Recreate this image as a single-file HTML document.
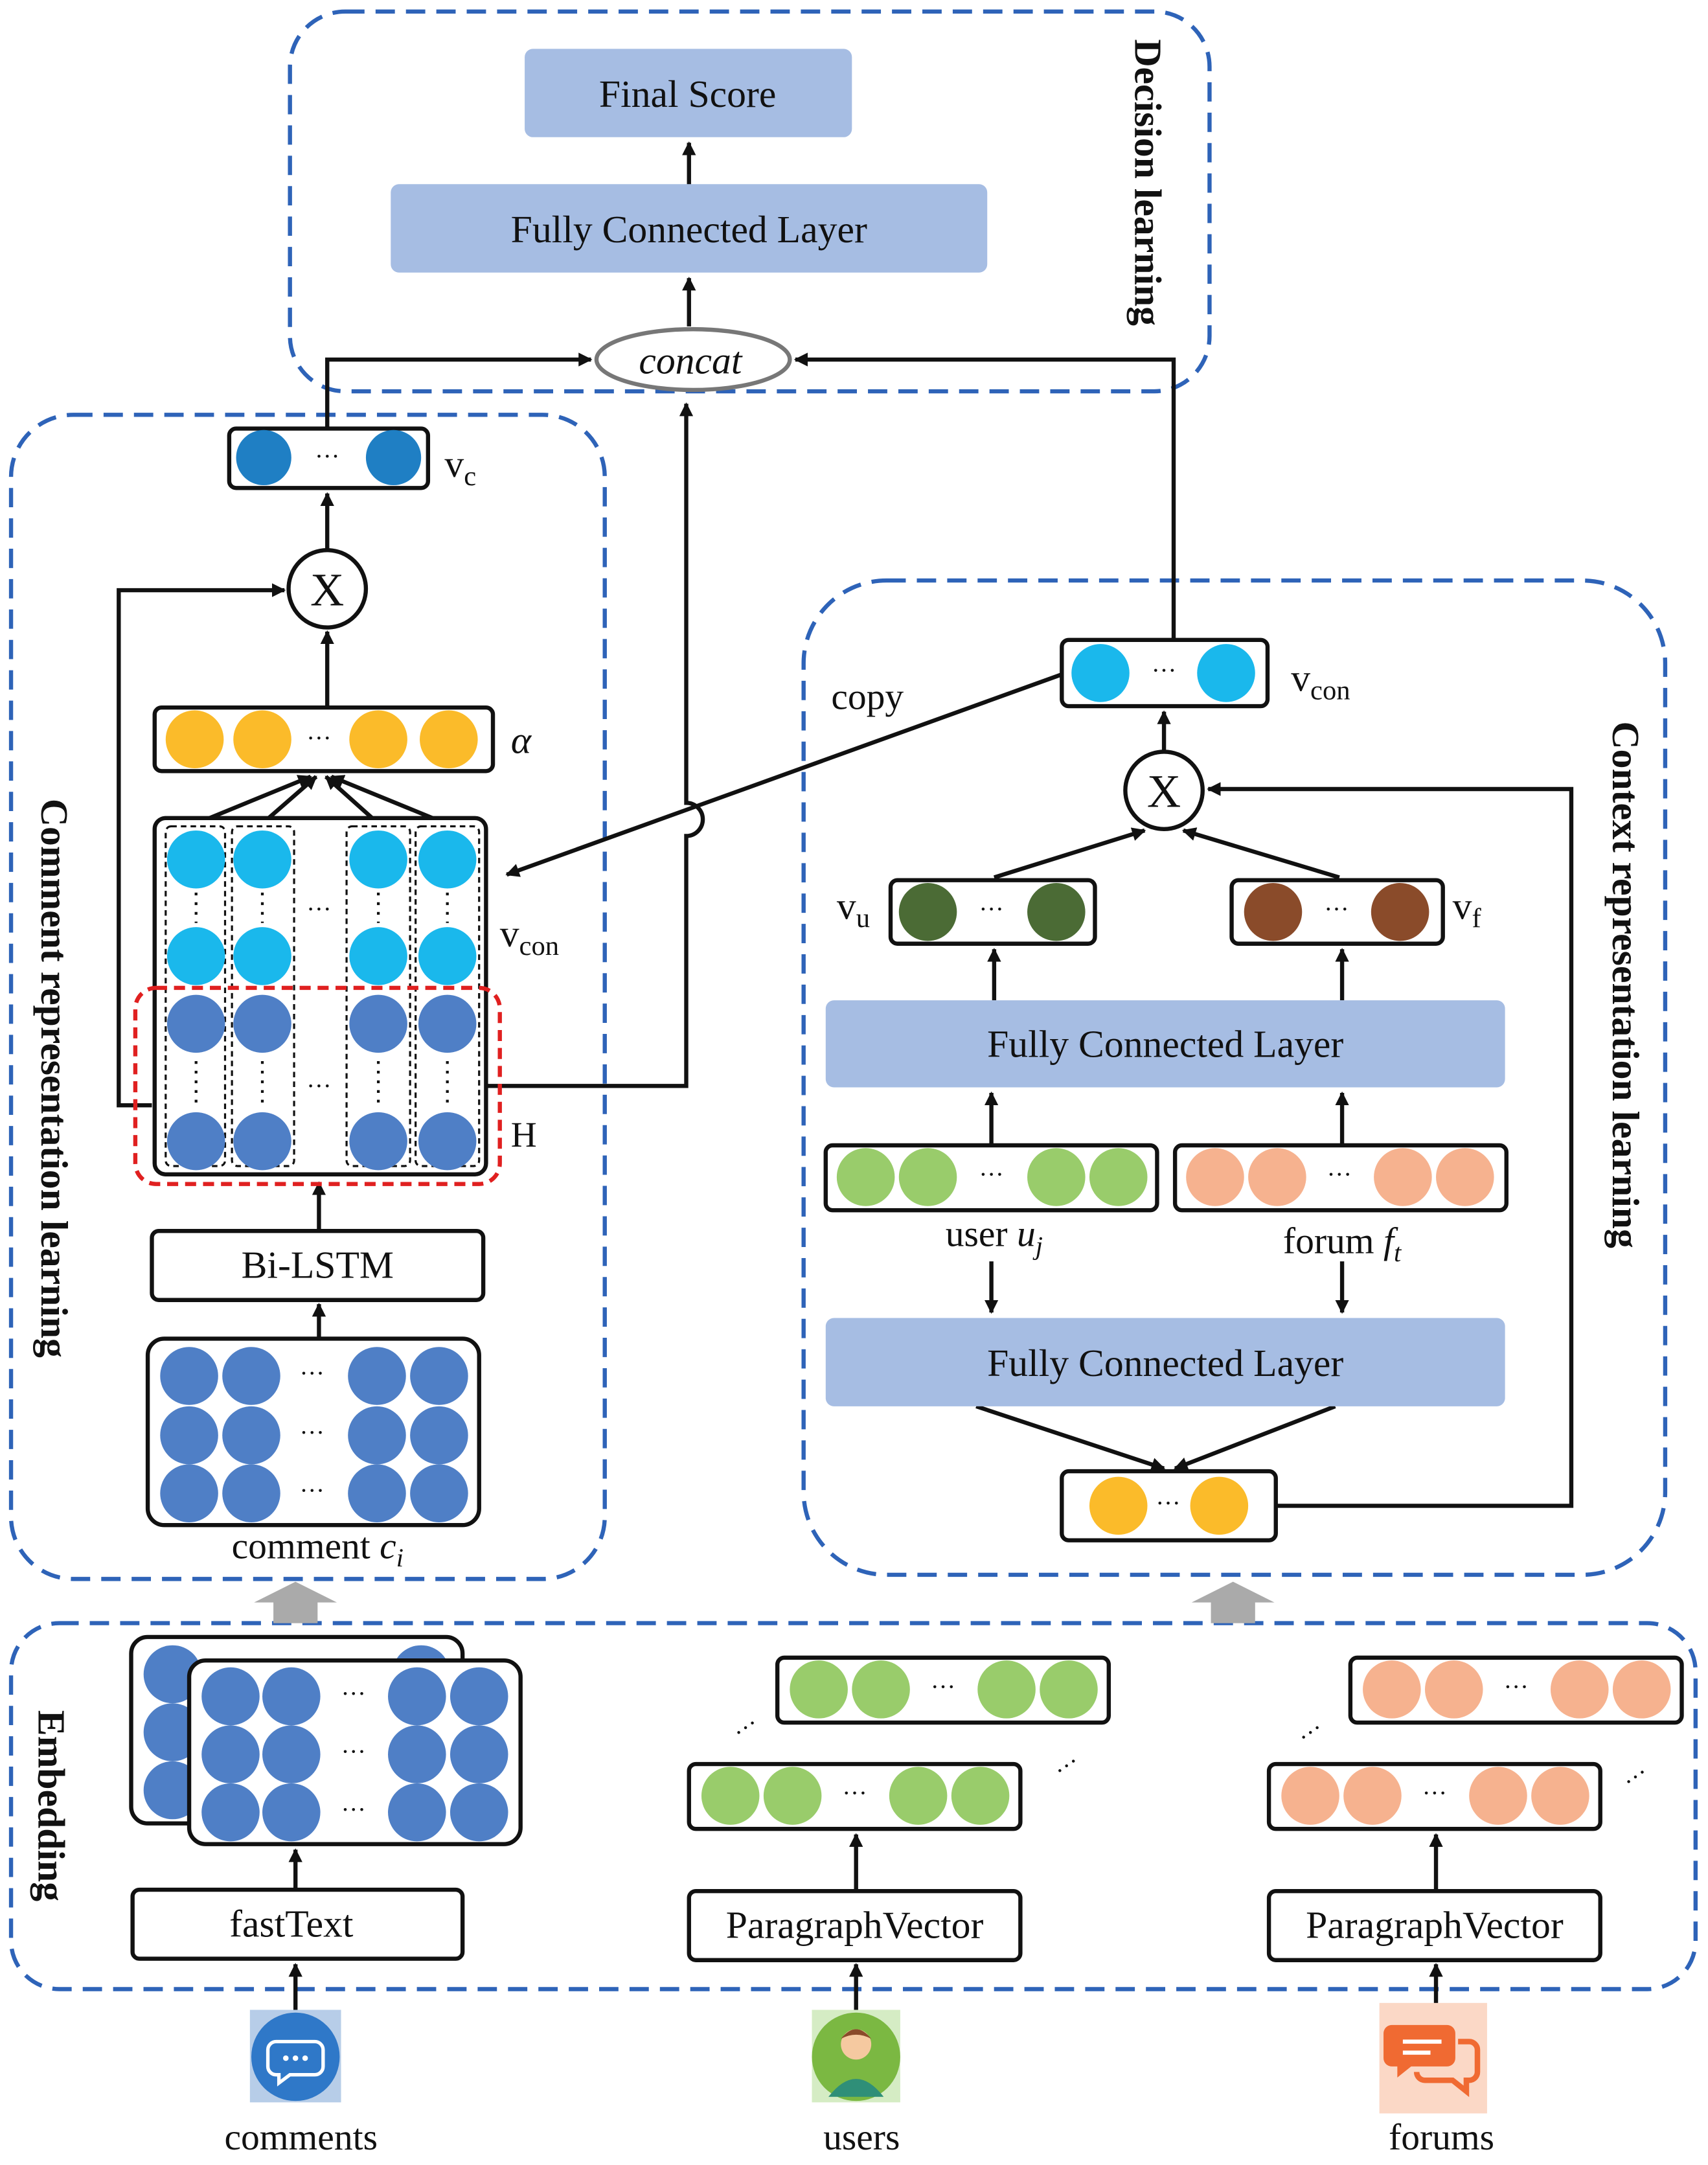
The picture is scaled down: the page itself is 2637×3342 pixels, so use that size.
<!DOCTYPE html>
<html><head><meta charset="utf-8"><style>
html,body{margin:0;padding:0;background:#fff}
svg{display:block}
text{font-family:"Liberation Serif",serif;fill:#111}
</style></head><body>
<svg width="2637" height="3342" viewBox="0 0 1237 1567" xmlns="http://www.w3.org/2000/svg">
<defs>
<marker id="ah" markerWidth="10" markerHeight="10" refX="9" refY="5" orient="auto" markerUnits="userSpaceOnUse">
<path d="M0,0 L10,5 L0,10 Z" fill="#111"/></marker>
</defs>
<g fill="none" stroke="#2e63b8" stroke-width="3" stroke-dasharray="14,8">
<rect x="210" y="8" width="666" height="275" rx="40"/>
<rect x="8" y="300" width="430" height="843" rx="45"/>
<rect x="582" y="420" width="624" height="720" rx="60"/>
<rect x="8" y="1175" width="1220" height="265" rx="35"/>
</g>
<rect x="380" y="35" width="237" height="64" rx="6" fill="#a6bde3"/>
<text x="498" y="77" font-size="28" text-anchor="middle">Final Score</text>
<rect x="283" y="133" width="432" height="64" rx="6" fill="#a6bde3"/>
<text x="499" y="175" font-size="28" text-anchor="middle">Fully Connected Layer</text>
<ellipse cx="502" cy="260" rx="70" ry="22" fill="#fff" stroke="#777" stroke-width="3"/>
<text x="500" y="270" font-size="28" font-style="italic" text-anchor="middle">concat</text>
<text transform="translate(822,28) rotate(90)" font-size="28" font-weight="bold">Decision learning</text>
<g stroke="#111" stroke-width="3" fill="none">
<line x1="499" y1="133" x2="499" y2="103" marker-end="url(#ah)"/>
<line x1="499" y1="236" x2="499" y2="201" marker-end="url(#ah)"/>
<polyline points="237,310 237,260 428,260" marker-end="url(#ah)"/>
<polyline points="850,463 850,260 576,260" marker-end="url(#ah)"/>
<path d="M352,786 L497,786 L497,605 A12,12 0 0 0 497,581 L497,292" marker-end="url(#ah)"/>
<line x1="237" y1="398" x2="237" y2="357" marker-end="url(#ah)"/>
<line x1="237" y1="512" x2="237" y2="457" marker-end="url(#ah)"/>
<polyline points="110,800 86,800 86,427 206,427" marker-end="url(#ah)"/>
<line x1="142" y1="596" x2="225" y2="562" marker-end="url(#ah)"/>
<line x1="190" y1="596" x2="229" y2="562" marker-end="url(#ah)"/>
<line x1="274" y1="596" x2="236" y2="562" marker-end="url(#ah)"/>
<line x1="323" y1="596" x2="240" y2="562" marker-end="url(#ah)"/>
<line x1="231" y1="891" x2="231" y2="856" marker-end="url(#ah)"/>
<line x1="231" y1="969" x2="231" y2="944" marker-end="url(#ah)"/>
<line x1="769" y1="488" x2="367" y2="633" marker-end="url(#ah)"/>
<line x1="843" y1="544" x2="843" y2="515" marker-end="url(#ah)"/>
<line x1="720" y1="635" x2="829" y2="601" marker-end="url(#ah)"/>
<line x1="970" y1="635" x2="857" y2="601" marker-end="url(#ah)"/>
<line x1="720" y1="724" x2="720" y2="687" marker-end="url(#ah)"/>
<line x1="972" y1="724" x2="972" y2="687" marker-end="url(#ah)"/>
<line x1="718" y1="829" x2="718" y2="791" marker-end="url(#ah)"/>
<line x1="972" y1="829" x2="972" y2="791" marker-end="url(#ah)"/>
<line x1="718" y1="913" x2="718" y2="950" marker-end="url(#ah)"/>
<line x1="972" y1="913" x2="972" y2="950" marker-end="url(#ah)"/>
<line x1="707" y1="1018" x2="843" y2="1063" marker-end="url(#ah)"/>
<line x1="967" y1="1018" x2="851" y2="1063" marker-end="url(#ah)"/>
<polyline points="924,1090 1138,1090 1138,571 875,571" marker-end="url(#ah)"/>
<line x1="214" y1="1368" x2="214" y2="1339" marker-end="url(#ah)"/>
<line x1="620" y1="1369" x2="620" y2="1328" marker-end="url(#ah)"/>
<line x1="1040" y1="1369" x2="1040" y2="1328" marker-end="url(#ah)"/>
<line x1="214" y1="1455" x2="214" y2="1422" marker-end="url(#ah)"/>
<line x1="620" y1="1455" x2="620" y2="1422" marker-end="url(#ah)"/>
<line x1="1040" y1="1455" x2="1040" y2="1422" marker-end="url(#ah)"/>
</g>
<path d="M198,1175 L198,1160 L184,1160 L214,1145 L244,1160 L230,1160 L230,1175 Z" fill="#aaa"/>
<path d="M877,1175 L877,1160 L863,1160 L893,1145 L923,1160 L909,1160 L909,1175 Z" fill="#aaa"/>

<text transform="translate(30,578) rotate(90)" font-size="28" font-weight="bold">Comment representation learning</text>
<rect x="166" y="310" width="144" height="43" rx="5" fill="#fff" stroke="#111" stroke-width="3"/>
<circle cx="191" cy="331" r="20" fill="#1f7fc4"/><circle cx="285" cy="331" r="20" fill="#1f7fc4"/>
<text x="237" y="336" font-size="18" text-anchor="middle">···</text>
<text x="322" y="345" font-size="28">v<tspan font-size="20" dy="6">c</tspan></text>
<circle cx="237" cy="426" r="28" fill="#fff" stroke="#111" stroke-width="3"/>
<text x="237" y="438" font-size="34" text-anchor="middle">X</text>
<rect x="112" y="512" width="245" height="46" rx="5" fill="#fff" stroke="#111" stroke-width="3"/>
<g fill="#fbbb2a"><circle cx="141" cy="535" r="21"/><circle cx="190" cy="535" r="21"/><circle cx="274" cy="535" r="21"/><circle cx="325" cy="535" r="21"/></g>
<text x="231" y="540" font-size="18" text-anchor="middle">···</text>
<text x="370" y="545" font-size="28" font-style="italic">α</text>
<rect x="112" y="592" width="240" height="258" rx="8" fill="#fff" stroke="#111" stroke-width="3"/>
<g fill="none" stroke="#111" stroke-width="1.5" stroke-dasharray="4,3">
<rect x="120" y="598" width="43" height="246" rx="4"/><rect x="168" y="598" width="45" height="246" rx="4"/>
<rect x="251" y="598" width="46" height="246" rx="4"/><rect x="301" y="598" width="46" height="246" rx="4"/>
</g>
<g stroke="#111" stroke-width="2" stroke-dasharray="2,5">
<line x1="142" y1="646" x2="142" y2="668"/><line x1="190" y1="646" x2="190" y2="668"/><line x1="274" y1="646" x2="274" y2="668"/><line x1="324" y1="646" x2="324" y2="668"/>
<line x1="142" y1="768" x2="142" y2="800"/><line x1="190" y1="768" x2="190" y2="800"/><line x1="274" y1="768" x2="274" y2="800"/><line x1="324" y1="768" x2="324" y2="800"/>
</g>
<g fill="#1ab8ec"><circle cx="142" cy="622" r="21"/><circle cx="190" cy="622" r="21"/><circle cx="274" cy="622" r="21"/><circle cx="324" cy="622" r="21"/>
<circle cx="142" cy="692" r="21"/><circle cx="190" cy="692" r="21"/><circle cx="274" cy="692" r="21"/><circle cx="324" cy="692" r="21"/></g>
<g fill="#4f7fc6"><circle cx="142" cy="741" r="21"/><circle cx="190" cy="741" r="21"/><circle cx="274" cy="741" r="21"/><circle cx="324" cy="741" r="21"/>
<circle cx="142" cy="826" r="21"/><circle cx="190" cy="826" r="21"/><circle cx="274" cy="826" r="21"/><circle cx="324" cy="826" r="21"/></g>
<g font-size="18" text-anchor="middle"><text x="231" y="664">···</text><text x="231" y="792">···</text></g>
<rect x="98" y="715" width="264" height="142" rx="15" fill="none" stroke="#e02020" stroke-width="3" stroke-dasharray="8,5"/>
<text x="362" y="685" font-size="28">v<tspan font-size="20" dy="6">con</tspan></text>
<text x="370" y="830" font-size="26">H</text>
<rect x="110" y="891" width="240" height="50" rx="5" fill="#fff" stroke="#111" stroke-width="3"/>
<text x="230" y="925" font-size="28" text-anchor="middle">Bi-LSTM</text>
<rect x="107" y="969" width="240" height="135" rx="12" fill="#fff" stroke="#111" stroke-width="3"/>
<g fill="#4f7fc6">
<circle cx="137" cy="996" r="21"/><circle cx="182" cy="996" r="21"/><circle cx="273" cy="996" r="21"/><circle cx="318" cy="996" r="21"/>
<circle cx="137" cy="1039" r="21"/><circle cx="182" cy="1039" r="21"/><circle cx="273" cy="1039" r="21"/><circle cx="318" cy="1039" r="21"/>
<circle cx="137" cy="1081" r="21"/><circle cx="182" cy="1081" r="21"/><circle cx="273" cy="1081" r="21"/><circle cx="318" cy="1081" r="21"/></g>
<g font-size="18" text-anchor="middle"><text x="226" y="1000">···</text><text x="226" y="1043">···</text><text x="226" y="1085">···</text></g>
<text x="230" y="1128" font-size="27" text-anchor="middle">comment <tspan font-style="italic">c<tspan font-size="19" dy="6">i</tspan></tspan></text>

<text transform="translate(1168,522) rotate(90)" font-size="28" font-weight="bold">Context representation learning</text>
<text x="602" y="513" font-size="27">copy</text>
<rect x="769" y="463" width="149" height="48" rx="5" fill="#fff" stroke="#111" stroke-width="3"/>
<circle cx="797" cy="487" r="21" fill="#1ab8ec"/><circle cx="888" cy="487" r="21" fill="#1ab8ec"/>
<text x="843" y="491" font-size="18" text-anchor="middle">···</text>
<text x="935" y="500" font-size="28">v<tspan font-size="20" dy="6">con</tspan></text>
<circle cx="843" cy="572" r="28" fill="#fff" stroke="#111" stroke-width="3"/>
<text x="843" y="584" font-size="34" text-anchor="middle">X</text>
<rect x="645" y="637" width="148" height="46" rx="5" fill="#fff" stroke="#111" stroke-width="3"/>
<circle cx="672" cy="660" r="21" fill="#4b6b35"/><circle cx="765" cy="660" r="21" fill="#4b6b35"/>
<text x="718" y="664" font-size="18" text-anchor="middle">···</text>
<text x="606" y="665" font-size="28">v<tspan font-size="20" dy="6">u</tspan></text>
<rect x="892" y="637" width="153" height="46" rx="5" fill="#fff" stroke="#111" stroke-width="3"/>
<circle cx="922" cy="660" r="21" fill="#8a4b2a"/><circle cx="1014" cy="660" r="21" fill="#8a4b2a"/>
<text x="968" y="664" font-size="18" text-anchor="middle">···</text>
<text x="1052" y="665" font-size="28">v<tspan font-size="20" dy="6">f</tspan></text>
<rect x="598" y="724" width="492" height="63" rx="6" fill="#a6bde3"/>
<text x="844" y="765" font-size="28" text-anchor="middle">Fully Connected Layer</text>
<rect x="598" y="829" width="240" height="47" rx="5" fill="#fff" stroke="#111" stroke-width="3"/>
<g fill="#99cc6b"><circle cx="627" cy="852" r="21"/><circle cx="672" cy="852" r="21"/><circle cx="765" cy="852" r="21"/><circle cx="810" cy="852" r="21"/></g>
<text x="718" y="856" font-size="18" text-anchor="middle">···</text>
<rect x="851" y="829" width="240" height="47" rx="5" fill="#fff" stroke="#111" stroke-width="3"/>
<g fill="#f6b28f"><circle cx="880" cy="852" r="21"/><circle cx="925" cy="852" r="21"/><circle cx="1016" cy="852" r="21"/><circle cx="1061" cy="852" r="21"/></g>
<text x="970" y="856" font-size="18" text-anchor="middle">···</text>
<text x="720" y="902" font-size="27" text-anchor="middle">user <tspan font-style="italic">u<tspan font-size="19" dy="6">j</tspan></tspan></text>
<text x="972" y="907" font-size="27" text-anchor="middle">forum <tspan font-style="italic">f<tspan font-size="19" dy="6">t</tspan></tspan></text>
<rect x="598" y="954" width="492" height="64" rx="6" fill="#a6bde3"/>
<text x="844" y="996" font-size="28" text-anchor="middle">Fully Connected Layer</text>
<rect x="769" y="1065" width="155" height="50" rx="5" fill="#fff" stroke="#111" stroke-width="3"/>
<circle cx="810" cy="1090" r="21" fill="#fbbb2a"/><circle cx="883" cy="1090" r="21" fill="#fbbb2a"/>
<text x="846" y="1094" font-size="18" text-anchor="middle">···</text>

<text transform="translate(28,1238) rotate(90)" font-size="28" font-weight="bold">Embedding</text>
<rect x="95" y="1185" width="240" height="135" rx="12" fill="#fff" stroke="#111" stroke-width="3"/>
<g fill="#4f7fc6"><circle cx="125" cy="1212" r="21"/><circle cx="125" cy="1254" r="21"/><circle cx="125" cy="1296" r="21"/><circle cx="305" cy="1212" r="21"/></g>
<rect x="137" y="1202" width="240" height="133" rx="12" fill="#fff" stroke="#111" stroke-width="3"/>
<g fill="#4f7fc6">
<circle cx="167" cy="1228" r="21"/><circle cx="211" cy="1228" r="21"/><circle cx="302" cy="1228" r="21"/><circle cx="347" cy="1228" r="21"/>
<circle cx="167" cy="1270" r="21"/><circle cx="211" cy="1270" r="21"/><circle cx="302" cy="1270" r="21"/><circle cx="347" cy="1270" r="21"/>
<circle cx="167" cy="1312" r="21"/><circle cx="211" cy="1312" r="21"/><circle cx="302" cy="1312" r="21"/><circle cx="347" cy="1312" r="21"/></g>
<g font-size="18" text-anchor="middle"><text x="256" y="1232">···</text><text x="256" y="1274">···</text><text x="256" y="1316">···</text></g>
<rect x="96" y="1368" width="239" height="50" rx="5" fill="#fff" stroke="#111" stroke-width="3"/>
<text x="211" y="1402" font-size="28" text-anchor="middle">fastText</text>

<rect x="563" y="1200" width="240" height="47" rx="5" fill="#fff" stroke="#111" stroke-width="3"/>
<g fill="#99cc6b"><circle cx="593" cy="1223" r="21"/><circle cx="638" cy="1223" r="21"/><circle cx="729" cy="1223" r="21"/><circle cx="774" cy="1223" r="21"/></g>
<text x="683" y="1227" font-size="18" text-anchor="middle">···</text>
<rect x="499" y="1277" width="240" height="47" rx="5" fill="#fff" stroke="#111" stroke-width="3"/>
<g fill="#99cc6b"><circle cx="529" cy="1300" r="21"/><circle cx="574" cy="1300" r="21"/><circle cx="665" cy="1300" r="21"/><circle cx="710" cy="1300" r="21"/></g>
<text x="619" y="1304" font-size="18" text-anchor="middle">···</text>
<text x="532" y="1262" font-size="18" transform="rotate(-35 532 1255)">···</text>
<text x="764" y="1286" font-size="18" transform="rotate(-35 770 1280)">···</text>
<rect x="499" y="1369" width="240" height="50" rx="5" fill="#fff" stroke="#111" stroke-width="3"/>
<text x="619" y="1403" font-size="28" text-anchor="middle">ParagraphVector</text>

<rect x="978" y="1200" width="240" height="47" rx="5" fill="#fff" stroke="#111" stroke-width="3"/>
<g fill="#f6b28f"><circle cx="1008" cy="1223" r="21"/><circle cx="1053" cy="1223" r="21"/><circle cx="1144" cy="1223" r="21"/><circle cx="1189" cy="1223" r="21"/></g>
<text x="1098" y="1227" font-size="18" text-anchor="middle">···</text>
<rect x="919" y="1277" width="240" height="47" rx="5" fill="#fff" stroke="#111" stroke-width="3"/>
<g fill="#f6b28f"><circle cx="949" cy="1300" r="21"/><circle cx="994" cy="1300" r="21"/><circle cx="1085" cy="1300" r="21"/><circle cx="1130" cy="1300" r="21"/></g>
<text x="1039" y="1304" font-size="18" text-anchor="middle">···</text>
<text x="940" y="1262" font-size="18" transform="rotate(-35 946 1255)">···</text>
<text x="1176" y="1294" font-size="18" transform="rotate(-35 1182 1288)">···</text>
<rect x="919" y="1369" width="240" height="50" rx="5" fill="#fff" stroke="#111" stroke-width="3"/>
<text x="1039" y="1403" font-size="28" text-anchor="middle">ParagraphVector</text>

<rect x="181" y="1455" width="66" height="67" fill="#b7cde8"/>
<circle cx="214" cy="1489" r="32" fill="#2f78c8"/>
<path d="M200,1478 h28 a6,6 0 0 1 6,6 v12 a6,6 0 0 1 -6,6 h-18 l-8,6 v-6 h-2 a6,6 0 0 1 -6,-6 v-12 a6,6 0 0 1 6,-6z" fill="none" stroke="#fff" stroke-width="2.5"/>
<g fill="#fff"><circle cx="207" cy="1490" r="2"/><circle cx="214" cy="1490" r="2"/><circle cx="221" cy="1490" r="2"/></g>
<rect x="588" y="1455" width="64" height="67" fill="#d5ecc4"/>
<circle cx="620" cy="1489" r="32" fill="#7bb842"/>
<path d="M600,1518 q20,-26 40,0 z" fill="#2f8f78"/>
<circle cx="620" cy="1480" r="11" fill="#f5c9a0"/>
<path d="M609,1476 q11,-14 22,0 q-11,-6 -22,0z" fill="#8a4b2a"/>
<rect x="999" y="1450" width="78" height="80" fill="#fbd8c6"/>
<path d="M1008,1466 h40 a6,6 0 0 1 6,6 v18 a6,6 0 0 1 -6,6 h-26 l-10,8 v-8 h-4 a6,6 0 0 1 -6,-6 v-18 a6,6 0 0 1 6,-6z" fill="#f06a32"/>
<path d="M1056,1478 h8 a6,6 0 0 1 6,6 v16 a6,6 0 0 1 -6,6 h-2 v8 l-10,-8 h-20 a6,6 0 0 1 -6,-6" fill="none" stroke="#f06a32" stroke-width="4"/>
<g stroke="#fff" stroke-width="3"><line x1="1016" y1="1478" x2="1044" y2="1478"/><line x1="1016" y1="1486" x2="1036" y2="1486"/></g>
<text x="218" y="1556" font-size="27" text-anchor="middle">comments</text>
<text x="624" y="1556" font-size="27" text-anchor="middle">users</text>
<text x="1044" y="1556" font-size="27" text-anchor="middle">forums</text>
</svg>
</body></html>
